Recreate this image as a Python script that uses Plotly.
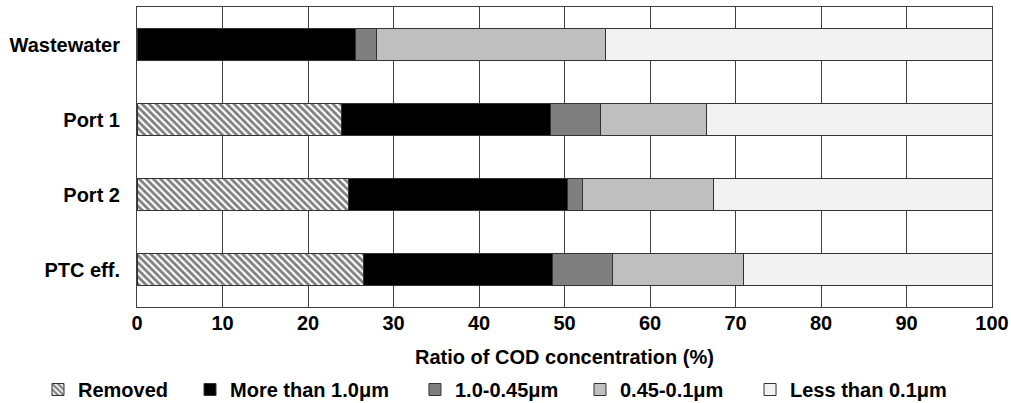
import plotly.graph_objects as go

categories = ["Wastewater", "Port 1", "Port 2", "PTC eff."]
series_names = ["Removed", "More than 1.0μm", "1.0-0.45μm", "0.45-0.1μm", "Less than 0.1μm"]
removed = [0.0, 23.9, 24.7, 26.5]
more_than_1 = [25.5, 24.5, 25.6, 22.1]
r1_045 = [2.5, 5.8, 1.8, 7.0]
r045_01 = [26.8, 12.4, 15.3, 15.3]
less_01 = [45.2, 33.4, 32.6, 29.1]
x_ticks = [0, 10, 20, 30, 40, 50, 60, 70, 80, 90, 100]

values = [removed, more_than_1, r1_045, r045_01, less_01]
colors = ["#ffffff", "#000000", "#7f7f7f", "#bfbfbf", "#f2f2f2"]
legend_ids = ["legend", "legend2", "legend3", "legend4", "legend5"]
legend_x = [-0.1158, 0.0620, 0.3251, 0.5181, 0.7170]

FONT = "Liberation Sans, Arial, Helvetica, sans-serif"
FS = 20

fig = go.Figure()
for i, (name, vals, col) in enumerate(zip(series_names, values, colors)):
    marker = dict(color=col, line=dict(color="#333333", width=1))
    if i == 0:
        marker["pattern"] = dict(shape="\\", fgcolor="#000000", bgcolor="#ffffff",
                                 size=5, solidity=0.55, fillmode="overlay")
    fig.add_trace(go.Bar(
        y=categories, x=vals, name=name, orientation="h",
        marker=marker, hoverinfo="x+name", legend=legend_ids[i],
    ))

layout_legends = {}
for lid, lx in zip(legend_ids, legend_x):
    layout_legends[lid] = dict(
        orientation="h", x=lx, xanchor="left", y=-0.275, yanchor="middle",
        font=dict(family=FONT, size=FS, color="#000000", weight="bold"),
        bgcolor="rgba(0,0,0,0)", borderwidth=0, itemwidth=30,
    )

fig.update_layout(
    barmode="stack",
    bargap=0.58,
    width=1011, height=403,
    margin=dict(l=137, r=19, t=7, b=96, autoexpand=False),
    paper_bgcolor="white", plot_bgcolor="white",
    font=dict(family=FONT, size=FS, color="#000000"),
    showlegend=True,
    xaxis=dict(range=[0, 100], tickvals=x_ticks, ticktext=[str(t) for t in x_ticks],
               showgrid=True, gridcolor="#404040", gridwidth=1,
               showline=True, linecolor="#404040", linewidth=1, mirror=True,
               zeroline=False, ticks="", ticklabelstandoff=-2, automargin=False,
               tickfont=dict(family=FONT, size=FS, weight="bold"),
               title=dict(text="<b>Ratio of COD concentration (%)</b>", standoff=16,
                          font=dict(family=FONT, size=FS))),
    yaxis=dict(autorange="reversed", showgrid=False, showline=True, linecolor="#404040",
               linewidth=1, mirror=True, ticks="", ticklabelstandoff=12, automargin=False,
               tickfont=dict(family=FONT, size=FS, weight="bold")),
    **layout_legends,
)

fig.write_html("out.html")
